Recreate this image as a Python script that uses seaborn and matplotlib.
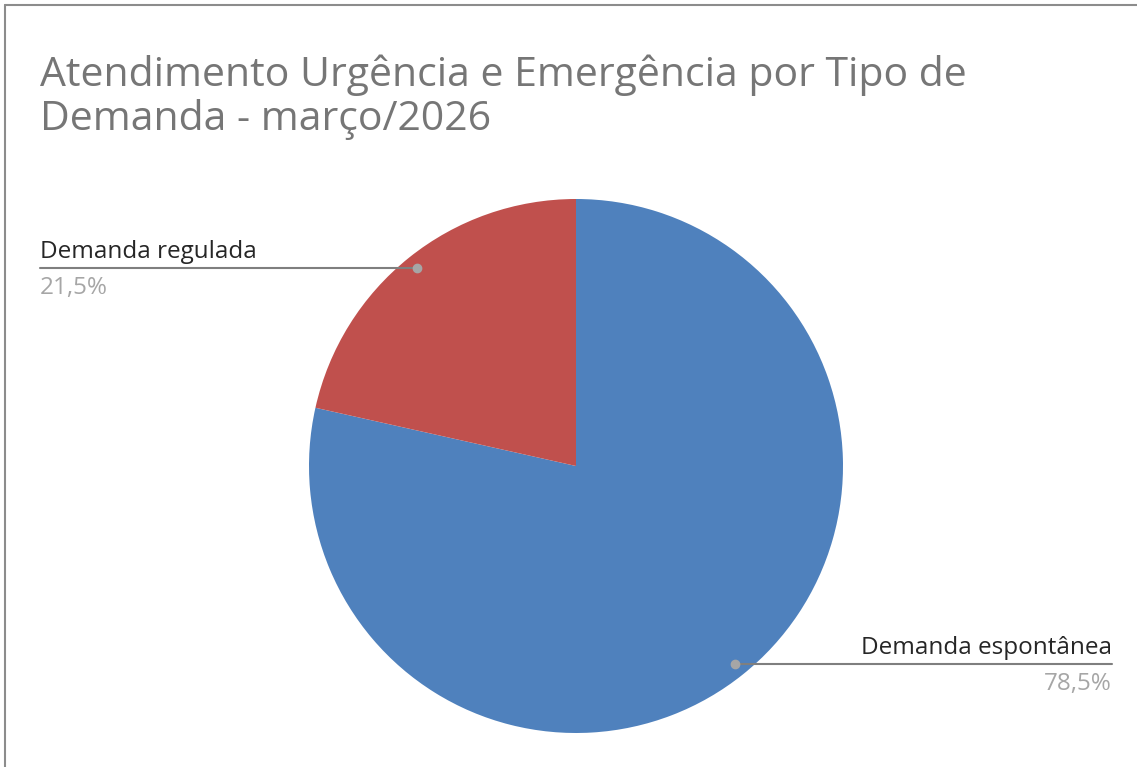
import numpy as np
import matplotlib
matplotlib.use("Agg")
import matplotlib.pyplot as plt
import seaborn as sns

# Data
categories = ["Demanda espontânea", "Demanda regulada"]
values = [78.5, 21.5]
pct_labels = ["78,5%", "21,5%"]
title_lines = ["Atendimento Urgência e Emergência por Tipo de", "Demanda - março/2026"]

colors = ["#4F81BD", "#C0504D"]

sns.set_theme(style="white")
plt.rcParams['font.family'] = ['Open Sans', 'DejaVu Sans']

W, H = 1137, 767
fig = plt.figure(figsize=(W / 100, H / 100), dpi=100)
fig.patch.set_facecolor("white")

# chart frame (only top and left edge visible in the reference)
fig.add_artist(plt.Line2D([4.5 / W, 4.5 / W], [0, 1 - 4.5 / H], color="#8c8c8c", lw=1.5))
fig.add_artist(plt.Line2D([4.5 / W, 1], [1 - 4.5 / H, 1 - 4.5 / H], color="#8c8c8c", lw=1.5))

# pie axes: center (576, 466), radius 267 px
cx, cy, r = 576, 466, 267
ax = fig.add_axes([(cx - r) / W, (H - cy - r) / H, 2 * r / W, 2 * r / H])
wedges, _ = ax.pie(values, colors=colors, startangle=90, counterclock=False,
                   radius=1, wedgeprops=dict(linewidth=0))
ax.set_xlim(-1, 1)
ax.set_ylim(-1, 1)
ax.set_aspect("equal")
ax.axis("off")

# title, two lines at fixed baselines
fig.text(40 / W, 1 - 86 / H, title_lines[0], ha="left", va="baseline",
         fontsize=29.5, color="#767676")
fig.text(40 / W, 1 - 130 / H, title_lines[1], ha="left", va="baseline",
         fontsize=29.5, color="#767676")

# leader lines with labels
for w, cat, pct in zip(wedges, categories, pct_labels):
    mid = np.deg2rad((w.theta1 + w.theta2) / 2)
    px, py = 0.95 * np.cos(mid), 0.95 * np.sin(mid)
    dx, dy = cx + px * r, cy - py * r
    if px < 0:
        x_end, ha = 40, "left"
    else:
        x_end, ha = 1112, "right"
    fig.add_artist(plt.Line2D([dx / W, x_end / W], [1 - dy / H, 1 - dy / H],
                              color="#7f7f7f", lw=1.5))
    fig.add_artist(plt.Line2D([dx / W], [1 - dy / H], marker="o", ms=6,
                              color="#a6a6a6", lw=0))
    fig.text(x_end / W, 1 - (dy - 10) / H, cat, ha=ha, va="baseline",
             fontsize=17.5, color="#262626")
    fig.text(x_end / W, 1 - (dy + 26) / H, pct, ha=ha, va="baseline",
             fontsize=17.5, color="#a6a6a6")

fig.savefig("out.png", dpi=100, facecolor="white")
